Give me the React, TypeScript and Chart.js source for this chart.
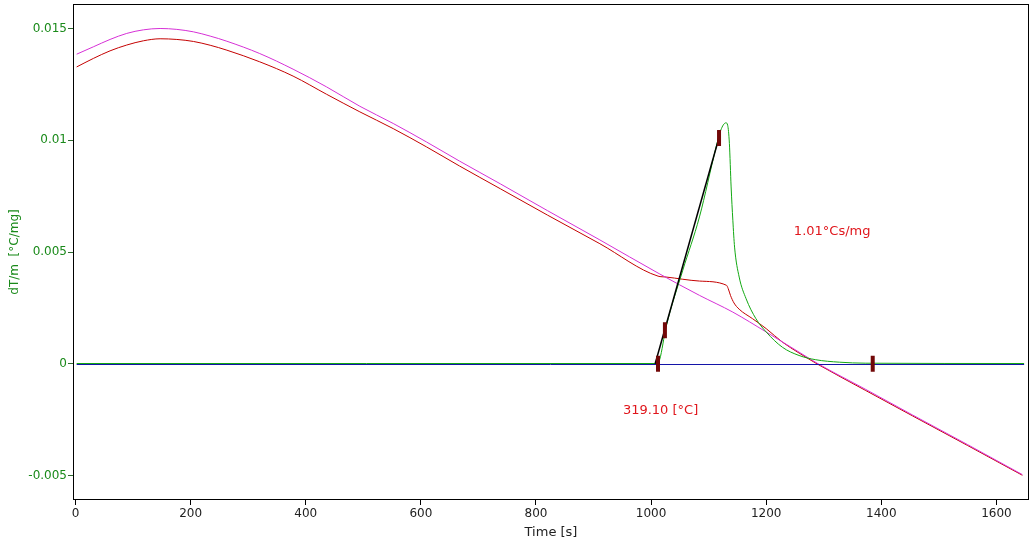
import React, { useEffect, useRef } from "react";
import { Chart, registerables } from "chart.js";

Chart.register(...registerables);

// ---- data (time in s, dT/m in °C/mg) ----
const magentaT = [2, 31, 60, 89, 118, 147, 176, 205, 234, 263, 320, 378, 436, 494, 552, 610, 667, 738, 820, 911, 1014, 1084, 1142, 1200, 1257, 1290, 1373, 1454, 1550, 1645];
const magentaV = [0.01385, 0.01418, 0.01451, 0.01478, 0.01494, 0.0150, 0.01496, 0.01485, 0.01466, 0.01443, 0.01388, 0.01318, 0.01239, 0.01152, 0.01075, 0.00992, 0.00907, 0.00805, 0.00685, 0.00554, 0.00403, 0.00306, 0.00231, 0.00142, 0.00052, 0.0, -0.00115, -0.00229, -0.00362, -0.00496];

const redT = [2, 31, 60, 89, 118, 147, 176, 205, 234, 263, 320, 378, 436, 494, 552, 610, 667, 738, 820, 911, 1012, 1026, 1084, 1131, 1134, 1138, 1144, 1153, 1176, 1200, 1228, 1257, 1290, 1373, 1454, 1550, 1645];
const redV = [0.01328, 0.01366, 0.0140, 0.01426, 0.01445, 0.01454, 0.01451, 0.01442, 0.01425, 0.01403, 0.01351, 0.01287, 0.01206, 0.01127, 0.01052, 0.0097, 0.00885, 0.00783, 0.00665, 0.00537, 0.00392, 0.00388, 0.0037, 0.00351, 0.00336, 0.00305, 0.00272, 0.00244, 0.00202, 0.00157, 0.00097, 0.00048, -0.00003, -0.0012, -0.00233, -0.00366, -0.00499];

const greenT = [2, 1010, 1015, 1026, 1055, 1084, 1113, 1121, 1130, 1133, 1136, 1139, 1142, 1145, 1153, 1165, 1182, 1200, 1228, 1257, 1286, 1327, 1373, 1648];
const greenV = [0.000011, 0.000011, 0.0002, 0.00164, 0.00418, 0.00657, 0.0097, 0.01045, 0.01078, 0.01067, 0.00985, 0.00791, 0.00642, 0.00522, 0.00388, 0.00291, 0.00202, 0.00142, 0.00074, 0.00037, 0.00018, 0.00007, 0.000025, 0.000011];

const blueT = [2, 1648];
const blueV = [-0.000034, -0.000034];

const tangentT = [1007, 1120];
const tangentV = [0, 0.0103];

const markerT = [1012, 1024, 1118, 1385];
const markerV = [0, 0.0015, 0.0101, 0];

const yTicks = [-0.005, 0, 0.005, 0.01, 0.015];
const yTickLabels = ["-0.005", "0", "0.005", "0.01", "0.015"];
const xTicks = [0, 200, 400, 600, 800, 1000, 1200, 1400, 1600];

const annotations = [
  { text: "1.01°Cs/mg", t: 1248, v: 0.00592 },
  { text: "319.10 [°C]", t: 951, v: -0.00209 },
];

const FONT = "DejaVu Sans";

const pts = (t: number[], v: number[]) => t.map((x, i) => ({ x, y: v[i] }));

const zeroPad = (s: any) => {
  s.paddingTop = 0;
  s.paddingBottom = 0;
  s.paddingLeft = 0;
  s.paddingRight = 0;
};

export default function App() {
  const ref = useRef<HTMLCanvasElement | null>(null);

  useEffect(() => {
    if (!ref.current) return;

    const framePlugin = {
      id: "frameAndText",
      afterDraw(chart: any) {
        const { ctx, chartArea, scales } = chart;
        ctx.save();
        ctx.strokeStyle = "#000";
        ctx.lineWidth = 1;
        ctx.strokeRect(
          Math.round(chartArea.left) + 0.5,
          Math.round(chartArea.top) + 0.5,
          Math.round(chartArea.right - chartArea.left) - 1,
          Math.round(chartArea.bottom - chartArea.top) - 1
        );
        // annotations
        ctx.font = `13px "${FONT}"`;
        ctx.fillStyle = "#e0161c";
        ctx.textAlign = "left";
        ctx.textBaseline = "middle";
        annotations.forEach((a) => {
          ctx.fillText(a.text, scales.x.getPixelForValue(a.t), scales.y.getPixelForValue(a.v));
        });
        // axis titles
        ctx.fillStyle = "#222";
        ctx.textAlign = "center";
        ctx.fillText("Time [s]", (chartArea.left + chartArea.right) / 2, 533);
        ctx.save();
        ctx.font = `12px "${FONT}"`;
        ctx.translate(15, (chartArea.top + chartArea.bottom) / 2);
        ctx.rotate(-Math.PI / 2);
        ctx.fillStyle = "#1a8a1a";
        ctx.fillText("dT/m  [°C/mg]", 0, 0);
        ctx.restore();
        ctx.restore();
      },
    };

    const line = (data: any, color: string, order: number) => ({
      type: "scatter" as const,
      data,
      showLine: true,
      borderColor: color,
      backgroundColor: color,
      borderWidth: 1,
      pointRadius: 0,
      cubicInterpolationMode: "monotone" as const,
      order,
    });

    const chart = new Chart(ref.current, {
      type: "scatter",
      data: {
        datasets: [
          {
            type: "scatter",
            data: pts(markerT, markerV),
            showLine: false,
            pointStyle: "line",
            rotation: 90,
            pointRadius: 8,
            pointBorderWidth: 4,
            pointBorderColor: "#720808",
            pointBackgroundColor: "#720808",
            order: 0,
          } as any,
          { ...line(pts(tangentT, tangentV), "#000000", 1), borderWidth: 1.5, cubicInterpolationMode: "default" },
          line(pts(blueT, blueV), "#1414a8", 2),
          line(pts(greenT, greenV), "#12a812", 3),
          line(pts(magentaT, magentaV), "#d630d6", 4),
          line(pts(redT, redV), "#c40000", 5),
        ],
      },
      options: {
        animation: false,
        responsive: false,
        maintainAspectRatio: false,
        layout: { autoPadding: false, padding: { top: 4, right: 3, left: 0, bottom: 0 } },
        plugins: { legend: { display: false }, tooltip: { enabled: false } },
        scales: {
          x: {
            type: "linear",
            min: -4.34,
            max: 1656.5,
            afterFit: (s: any) => {
              s.height = 44;
              zeroPad(s);
            },
            afterBuildTicks: (s: any) => {
              s.ticks = xTicks.map((v) => ({ value: v }));
            },
            ticks: {
              color: "#222",
              font: { family: FONT, size: 12 },
              padding: 2,
              maxRotation: 0,
              callback: (v: any) => String(v),
            },
            grid: { drawOnChartArea: false, drawTicks: true, tickLength: 5, color: "#000" },
            border: { display: false },
          },
          y: {
            type: "linear",
            min: -0.006096,
            max: 0.016096,
            afterFit: (s: any) => {
              s.width = 73;
              zeroPad(s);
            },
            afterBuildTicks: (s: any) => {
              s.ticks = yTicks.map((v) => ({ value: v }));
            },
            ticks: {
              color: "#1a8a1a",
              font: { family: FONT, size: 12 },
              padding: 1,
              callback: (v: any) => {
                const i = yTicks.findIndex((t) => Math.abs(t - v) < 1e-9);
                return i >= 0 ? yTickLabels[i] : "";
              },
            },
            grid: { drawOnChartArea: false, drawTicks: true, tickLength: 5, color: "#2f6a2f" },
            border: { display: false },
          },
        },
      } as any,
      plugins: [framePlugin],
    });

    return () => chart.destroy();
  }, []);

  return (
    <div style={{ position: "absolute", left: 0, top: 0, width: 1032, height: 544, background: "#fff" }}>
      <canvas ref={ref} width={1032} height={544} style={{ width: 1032, height: 544, display: "block" }} />
    </div>
  );
}
